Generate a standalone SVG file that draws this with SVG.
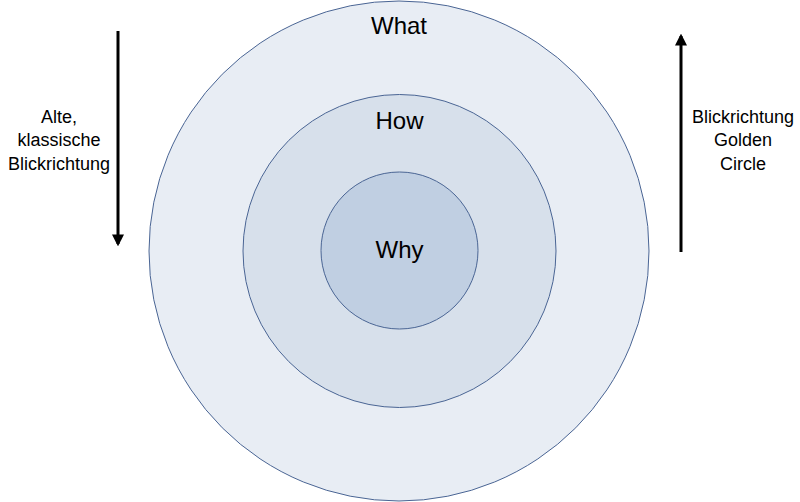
<svg xmlns="http://www.w3.org/2000/svg" width="800" height="502" viewBox="0 0 800 502">
<style>
.c{stroke:#4a6594;stroke-width:1}
.t{font-family:"Liberation Sans",Arial,sans-serif;fill:#000}
.big{font-size:24px;text-anchor:middle}
.side{font-size:18px;text-anchor:middle}
.a{stroke:#000;stroke-width:3;fill:none}
</style>
<defs>
<marker id="ah" viewBox="0 0 10 10" refX="8" refY="5" markerWidth="4" markerHeight="4" orient="auto" markerUnits="strokeWidth">
<path d="M0,0 L10,5 L0,10 z" fill="#000"/>
</marker>
</defs>
<rect width="800" height="502" fill="#fff"/>
<g id="what"><circle class="c" cx="399" cy="251" r="250" fill="#e8edf4"/><text class="t big" x="399" y="34">What</text></g>
<g id="how"><circle class="c" cx="399.5" cy="251" r="156.5" fill="#d7e0eb"/><text class="t big" x="399.5" y="129">How</text></g>
<g id="why"><circle class="c" cx="399.5" cy="250.5" r="78.5" fill="#c0cfe2"/><text class="t big" x="399.5" y="258">Why</text></g>
<g id="connectors">
<line class="a" x1="118" y1="31" x2="118" y2="244" marker-end="url(#ah)"/>
<line class="a" x1="681" y1="252" x2="681" y2="36" marker-end="url(#ah)"/>
</g>
<g id="left-label"><text class="t side" x="59" y="123">Alte,</text><text class="t side" x="59" y="146">klassische</text><text class="t side" x="59" y="170">Blickrichtung</text></g>
<g id="right-label"><text class="t side" x="743" y="123">Blickrichtung</text><text class="t side" x="743" y="146">Golden</text><text class="t side" x="743" y="170">Circle</text></g>
</svg>
